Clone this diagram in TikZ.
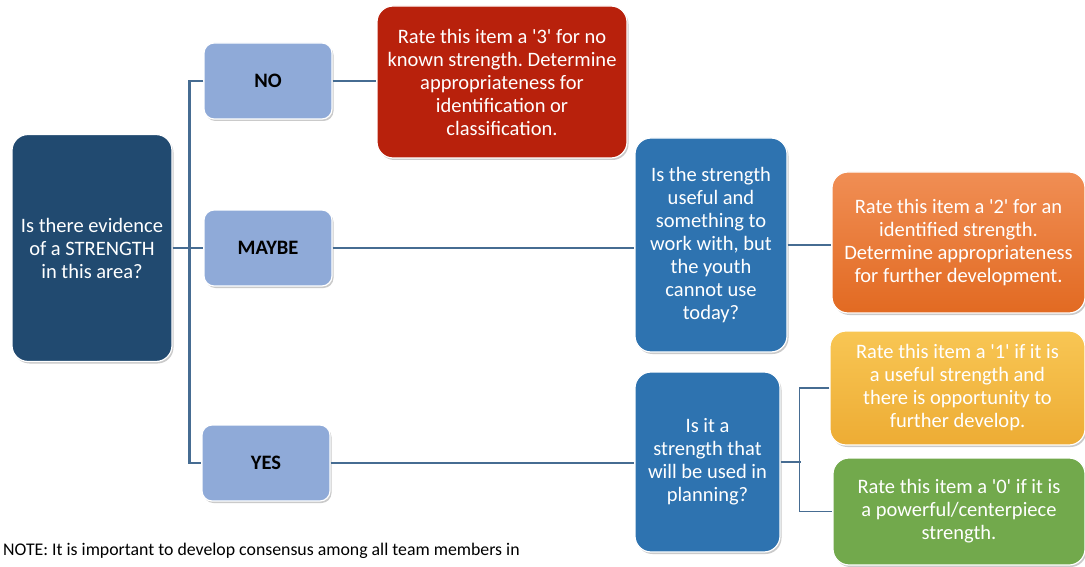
\documentclass[tikz,border=0pt]{standalone}
\usepackage{fontspec}
\setmainfont{Carlito}
\usetikzlibrary{shadows}
\definecolor{DB}{RGB}{33, 74, 112}
\definecolor{LB}{RGB}{143, 170, 216}
\definecolor{R}{RGB}{184, 33, 12}
\definecolor{MB}{RGB}{46, 115, 176}
\definecolor{O1}{RGB}{240, 142, 84}
\definecolor{O2}{RGB}{226, 106, 34}
\definecolor{Y1}{RGB}{248, 198, 84}
\definecolor{Y2}{RGB}{237, 172, 52}
\definecolor{G}{RGB}{114, 169, 76}
\definecolor{L}{RGB}{70, 108, 146}
\newcommand{\q}{\textquotesingle}
\frenchspacing

\begin{document}
\begin{tikzpicture}[x=1pt, y=-1pt,
    caja/.style={rounded corners=16pt, draw=white, line width=1.2pt, align=center,
        text=white, inner sep=3pt, font=\fontsize{20.5}{23}\selectfont,
        drop shadow={shadow xshift=1.5pt, shadow yshift=-2pt, opacity=0.35, fill=black!60}},
    resp/.style={caja, rounded corners=10pt, fill=LB, text=black,
        font=\fontsize{20.5}{23}\selectfont\bfseries, minimum width=128pt, minimum height=76pt},
    linea/.style={draw=L, line width=2.2pt}]
    \useasboundingbox (0,0) rectangle (1085,567);

    % Pregunta inicial
    \node[caja, fill=DB, minimum width=160pt, minimum height=227pt] (main) at (92,248)
        {Is there evidence\\of a STRENGTH\\in this area?};

    % Respuestas
    \node[resp] (no) at (268,81) {NO};
    \node[resp] (maybe) at (268,248) {MAYBE};
    \node[resp] (yes) at (266,463) {YES};

    % Rama NO
    \node[caja, fill=R, minimum width=250pt, minimum height=152pt] (red) at (502,82)
        {Rate this item a \q3\q{} for no\\known strength. Determine\\appropriateness for\\identification or\\classification.};

    % Rama MAYBE
    \node[caja, fill=MB, minimum width=152pt, minimum height=214pt] (q1) at (711,245)
        {Is the strength\\useful and\\something to\\work with, but\\the youth\\cannot use\\today?};
    \node[caja, top color=O1, bottom color=O2, minimum width=253pt, minimum height=141pt] (orange) at (958.5,242.5)
        {Rate this item a \q2\q{} for an\\identified strength.\\Determine appropriateness\\for further development.};

    % Rama YES
    \node[caja, fill=MB, minimum width=145pt, minimum height=180pt] (q2) at (707.5,462)
        {Is it a\\strength that\\will be used in\\planning?};
    \node[caja, top color=Y1, bottom color=Y2, minimum width=255pt, minimum height=114pt] (yellow) at (957.5,388)
        {Rate this item a \q1\q{} if it is\\a useful strength and\\there is opportunity to\\further develop.};
    \node[caja, fill=G, minimum width=252pt, minimum height=107pt] (green) at (959,511.5)
        {Rate this item a \q0\q{} if it is\\a powerful/centerpiece\\strength.};

    % Nota
    \node[anchor=base west, inner sep=0pt, font=\fontsize{17.8}{20}\selectfont] (note) at (3,555)
        {NOTE: It is important to develop consensus among all team members in};

    % Conectores
    \draw[linea] (main.east) -- (main.east -| maybe.west);
    \draw[linea] (no.west) -- ++(-14,0) |- (yes.west);
    \draw[linea] (no.east) -- (no.east -| red.west);
    \draw[linea] (maybe.east) -- (maybe.east -| q1.west);
    \draw[linea] (q1.east) -- (q1.east -| orange.west);
    \draw[linea] (yes.east) -- (yes.east -| q2.west);
    \draw[linea, line width=1.6pt] (q2.east) -- ++(20,0);
    \draw[linea, line width=1.6pt] (yellow.west) -- ++(-30,0) |- (green.west);
\end{tikzpicture}
\end{document}
